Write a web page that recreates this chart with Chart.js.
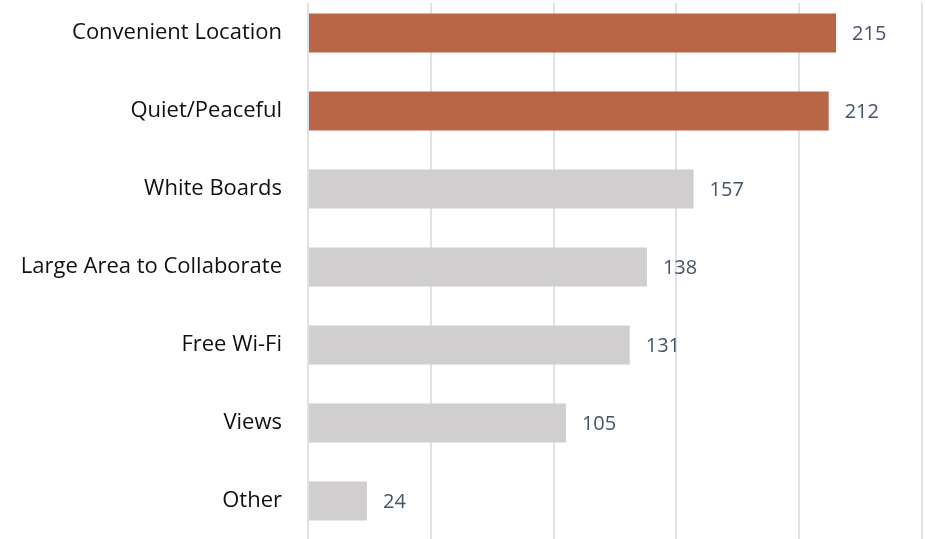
<!DOCTYPE html>
<html>
<head>
<meta charset="utf-8">
<script src="https://cdn.jsdelivr.net/npm/chart.js@4/dist/chart.umd.min.js"></script>
<style>
  html, body { margin: 0; padding: 0; background: #fff; overflow: hidden; }
  #wrap { width: 925px; height: 546px; margin-top: -6px; }
</style>
</head>
<body>
<div id="wrap"><canvas id="featChart"></canvas></div>
<script>
const categories = ['Convenient Location', 'Quiet/Peaceful', 'White Boards', 'Large Area to Collaborate', 'Free Wi-Fi', 'Views', 'Other'];
const counts = [215, 212, 157, 138, 131, 105, 24];
const highlight = [true, true, false, false, false, false, false];

// value labels at the end of each bar
const valueLabels = {
    id: 'valueLabels',
    beforeDatasetsDraw(chart) {
        // gridlines start a few px below the top edge
        const ctx = chart.ctx;
        ctx.save();
        ctx.fillStyle = '#fff';
        ctx.fillRect(0, 0, chart.width, 9);
        ctx.restore();
    },
    afterDatasetsDraw(chart) {
        const ctx = chart.ctx;
        const meta = chart.getDatasetMeta(0);
        ctx.save();
        ctx.font = '20px "Open Sans", sans-serif';
        ctx.fillStyle = '#44546A';
        ctx.textAlign = 'left';
        ctx.textBaseline = 'middle';
        meta.data.forEach((bar, i) => {
            ctx.fillText(counts[i], bar.x + 16, bar.y + 1);
        });
        ctx.restore();
    }
};

const ctx = document.getElementById('featChart').getContext('2d');
new Chart(ctx, {
    type: 'bar',
    data: {
        labels: categories,
        datasets: [{
            data: counts,
            backgroundColor: highlight.map(h => h ? '#B86645' : '#D0CECE'),
            barPercentage: 0.5,
            categoryPercentage: 1.0
        }]
    },
    options: {
        indexAxis: 'y',
        responsive: true,
        maintainAspectRatio: false,
        animation: false,
        layout: { padding: { top: 0, right: 3, bottom: 0, left: 0 } },
        plugins: {
            legend: { display: false },
            tooltip: { enabled: false }
        },
        scales: {
            x: {
                min: 0,
                max: 250,
                ticks: { display: false, stepSize: 50 },
                grid: { color: '#DEE3EA', lineWidth: 2, drawTicks: false },
                border: { display: false },
                afterFit(scale) { scale.height = 0; }
            },
            y: {
                ticks: {
                    color: '#111111',
                    font: { family: '"Open Sans", sans-serif', size: 22 },
                    padding: 26
                },
                grid: { display: false, drawTicks: false },
                border: { display: false },
                afterFit(scale) {
                    scale.width = 308;
                    scale.paddingTop = 0;
                    scale.paddingBottom = 0;
                }
            }
        }
    },
    plugins: [valueLabels]
});
</script>
</body>
</html>
